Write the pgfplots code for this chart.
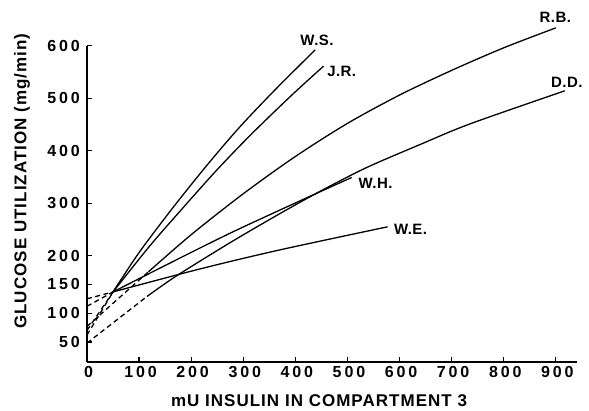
\documentclass[border=0pt]{standalone}
\usepackage{pgfplots}
\pgfplotsset{compat=1.18}
\usepackage{fontspec}
\setmainfont{Liberation Sans}
\newfontfamily\tickfont[LetterSpace=18]{Liberation Sans}
\newfontfamily\labfont[LetterSpace=6]{Liberation Sans}
\newfontfamily\curvefont[LetterSpace=3]{Liberation Sans}
\begin{document}
\begin{tikzpicture}[x=1pt,y=1pt]
\begin{axis}[
  at={(0pt,0pt)}, anchor=south west,
  scale only axis, width=489.7pt, height=316.3pt,
  xmin=0, xmax=940, ymin=15.1, ymax=600,
  y coord trafo/.code={\pgfmathparse{(#1<200)?(200-(200-#1)*1.0952):(#1)}},
  y coord inv trafo/.code={\pgfmathparse{(#1<200)?(200-(200-#1)/1.0952):(#1)}},
  axis x line=bottom, axis y line=left,
  axis line style={-, line width=1.5pt},
  xtick={0,100,200,300,400,500,600,700,800,900},
  xticklabels={0,100,200,300,400,500,600,700,800,900},
  ytick={50,100,150,200,300,400,500,600},
  yticklabels={50,100,150,200,300,400,500,600},
  tick align=inside, major tick length=5pt,
  tick style={line width=1.2pt, black},
  /pgf/number format/assume math mode=true,
  ticklabel style={font=\tickfont\bfseries\fontsize{16}{19}\selectfont},
  yticklabel style={inner sep=0pt, xshift=-7pt},
  xticklabel style={inner sep=0pt, yshift=-4pt, xshift=1.5pt},
  clip=false,
  xlabel={mU INSULIN IN COMPARTMENT 3},
  ylabel={GLUCOSE UTILIZATION (mg/min)},
  xlabel style={at={(rel axis cs:0.4738,0)}, anchor=base, yshift=-44pt, inner sep=0pt, font=\labfont\bfseries\fontsize{17}{20}\selectfont},
  ylabel style={at={(rel axis cs:0,0.572)}, anchor=center, yshift=65pt, inner sep=0pt, font=\labfont\bfseries\fontsize{17}{20}\selectfont},
  every axis plot/.append style={black, line width=1.3pt},
]
% solid curves
\addplot[smooth] coordinates {(50,137) (100,206) (163,289) (230,372) (294,446) (364,519) (438,592)}; % W.S.
\addplot[smooth] coordinates {(50,137) (120,218) (185,292) (249,363) (313,429) (390,503) (454,561)}; % J.R.
\addplot[smooth] coordinates {(118,172) (200,240) (300,318) (400,389) (500,452) (600,506) (700,553) (800,596) (900,634)}; % R.B.
\addplot[smooth] coordinates {(115,129) (172,165) (275,225) (370,280) (450,324) (537,368) (640,412) (735,451) (917,514)}; % D.D.
\addplot[smooth] coordinates {(50,137) (275,243) (508,349)}; % W.H.
\addplot[smooth] coordinates {(50,137) (217,177) (370,211) (577,255)}; % W.E.
% dashed extrapolations
\addplot[dash pattern=on 5pt off 3.5pt] coordinates {(0,125) (50,137)};
\addplot[dash pattern=on 5pt off 3.5pt] coordinates {(0,112) (50,137)};
\addplot[dash pattern=on 5pt off 3.5pt] coordinates {(0,62) (50,137)};
\addplot[dash pattern=on 5pt off 3.5pt] coordinates {(0,70) (50,137)};
\addplot[dash pattern=on 5pt off 3.5pt] coordinates {(0,77) (118,172)};
\addplot[dash pattern=on 5pt off 3.5pt] coordinates {(0,48) (115,129)};
% labels
\node[font=\curvefont\bfseries\fontsize{15}{18}\selectfont] at (axis cs:441.5,611) {W.S.};
\node[font=\curvefont\bfseries\fontsize{15}{18}\selectfont] at (axis cs:489,551) {J.R.};
\node[font=\curvefont\bfseries\fontsize{15}{18}\selectfont] at (axis cs:899,654) {R.B.};
\node[font=\curvefont\bfseries\fontsize{15}{18}\selectfont] at (axis cs:921,530) {D.D.};
\node[font=\curvefont\bfseries\fontsize{15}{18}\selectfont] at (axis cs:554,337) {W.H.};
\node[font=\curvefont\bfseries\fontsize{15}{18}\selectfont] at (axis cs:621,250) {W.E.};
\end{axis}
\pgfresetboundingbox
\path (-87pt,-48pt) rectangle (502pt,362pt);
\end{tikzpicture}
\end{document}
